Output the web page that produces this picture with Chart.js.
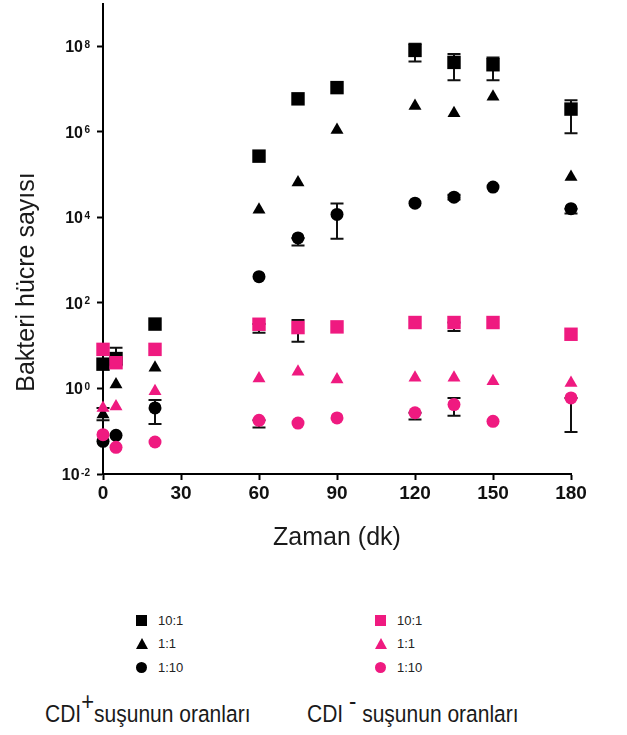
<!DOCTYPE html>
<html>
<head>
<meta charset="utf-8">
<script src="https://cdn.jsdelivr.net/npm/chart.js@4.4.0/dist/chart.umd.min.js"></script>
<style>
	body { margin: 0; background: #fff; font-family: 'Liberation Sans', Arial, sans-serif; }
	#wrap { position: relative; width: 627px; height: 735px; overflow: hidden; }
	#chartBox { position: absolute; left: 0; top: -6px; width: 627px; height: 571px; }
	.legend { position: absolute; font-size: 13px; color: #222; }
	.legend .row { height: 23.3px; display: flex; align-items: center; }
	.legend .mk { width: 11px; height: 11px; margin-right: 11px; }
	.mk.circle { border-radius: 50%; }
	.mk.triangle { width: 0; height: 0; background: none !important; border-left: 6px solid transparent; border-right: 6px solid transparent; border-bottom: 11px solid; margin-right: 10px; }
	.grpTitle { position: absolute; font-size: 21px; color: #1a1a1a; white-space: nowrap; transform: scaleY(1.15); transform-origin: left top; }
	.grpTitle sup { font-size: 22px; position: relative; top: -9px; vertical-align: top; line-height: 1; }
</style>
</head>
<body>
<div id="wrap">
	<div id="chartBox"><canvas id="chart"></canvas></div>
	<div class="legend" id="legPos" style="left:136px;top:609px"></div>
	<div class="legend" id="legNeg" style="left:375px;top:609px"></div>
	<div class="grpTitle" style="left:45px;top:700px">CDI<sup>+</sup>suşunun oranları</div>
	<div class="grpTitle" style="left:307px;top:700px">CDI <sup>-</sup> suşunun oranları</div>
</div>
<script>
// ===== DATA =====
const times = [0, 5, 20, 60, 75, 90, 120, 135, 150, 180];

// CDI+ strain
const pos10_1 = [3.7, 5, 32, 2.7e5, 5.9e6, 1.08e7, 8e7, 4.2e7, 3.7e7, 3.4e6];
const pos1_1  = [0.245, 1.24, 3.05, 1.5e4, 6.5e4, 1.1e6, 4e6, 2.7e6, 6.6e6, 8.8e4];
const pos1_10 = [0.058, 0.08, 0.35, 410, 3300, 1.17e4, 2.15e4, 2.96e4, 5.1e4, 1.6e4];

// CDI- strain
const neg10_1 = [8.2, 4.0, 8.2, 31.7, 26.5, 27.5, 34.8, 34.8, 34.8, 18.5];
const neg1_1  = [0.35, 0.38, 0.86, 1.72, 2.45, 1.63, 1.77, 1.77, 1.48, 1.35];
const neg1_10 = [0.083, 0.042, 0.056, 0.18, 0.155, 0.205, 0.27, 0.42, 0.17, 0.6];

// error bars [low, high]
const pos10_1Err = [null, [3.5, 8.9], null, null, null, null, [4.4e7, 1.15e8], [1.6e7, 6.6e7], [1.6e7, 5.5e7], [9.2e5, 5.5e6]];
const pos1_1Err  = [[0.18, 0.35], null, null, null, null, null, null, null, null, null];
const pos1_10Err = [null, null, [0.148, 0.54], null, [2200, 3300], [3150, 2.1e4], null, [2.6e4, 3.4e4], null, [1.23e4, 1.6e4]];
const neg10_1Err = [null, null, null, [20, 32], [12.4, 40], null, null, [22, 35], null, null];
const neg1_10Err = [null, null, null, [0.123, 0.18], null, null, [0.187, 0.27], [0.23, 0.6], null, [0.096, 0.6]];

const xTicks = [0, 30, 60, 90, 120, 150, 180];
const yTicks = [1e-2, 1e0, 1e2, 1e4, 1e6, 1e8];
const yTickExp = ['-2', '0', '2', '4', '6', '8'];
const ratioLabels = ['10:1', '1:1', '1:10'];

const BLACK = '#000000';
const PINK = '#EF1A80';

function toPoints(values) {
	return values.map((v, i) => ({ x: times[i], y: v }));
}

function makeSet(label, values, errors, color, style, radius, order) {
	return {
		label: label,
		data: toPoints(values),
		errors: errors,
		pointStyle: style,
		pointRadius: radius,
		pointHoverRadius: radius,
		backgroundColor: color,
		borderColor: color,
		borderWidth: 0,
		showLine: false,
		clip: false,
		order: order
	};
}

// ===== PLUGINS =====
const errorBars = {
	id: 'errorBars',
	beforeDatasetsDraw(chart) {
		const { ctx, scales: { x, y } } = chart;
		ctx.save();
		ctx.strokeStyle = '#111';
		ctx.lineWidth = 2;
		chart.data.datasets.forEach(ds => {
			if (!ds.errors) return;
			ds.errors.forEach((e, i) => {
				if (!e) return;
				const px = x.getPixelForValue(times[i]);
				const lo = y.getPixelForValue(e[0]);
				const hi = y.getPixelForValue(e[1]);
				ctx.beginPath();
				ctx.moveTo(px, lo);
				ctx.lineTo(px, hi);
				ctx.moveTo(px - 6.5, lo);
				ctx.lineTo(px + 6.5, lo);
				ctx.moveTo(px - 6.5, hi);
				ctx.lineTo(px + 6.5, hi);
				ctx.stroke();
			});
		});
		ctx.restore();
	}
};

// y tick labels as 10 with a raised exponent
const yTickText = {
	id: 'yTickText',
	afterDraw(chart) {
		const { ctx, scales: { y } } = chart;
		const right = 90;
		ctx.save();
		ctx.fillStyle = '#111';
		ctx.textBaseline = 'alphabetic';
		ctx.textAlign = 'left';
		yTicks.forEach((v, i) => {
			const py = y.getPixelForValue(v);
			ctx.font = 'bold 10px "Liberation Sans", Arial, sans-serif';
			const ew = ctx.measureText(yTickExp[i]).width;
			ctx.fillText(yTickExp[i], right - ew, py + 1.5);
			ctx.font = 'bold 16px "Liberation Sans", Arial, sans-serif';
			const bw = ctx.measureText('10').width;
			ctx.fillText('10', right - ew - 1.5 - bw, py + 6);
		});
		ctx.restore();
	}
};

const yTitle = {
	id: 'yTitle',
	afterDraw(chart) {
		const ctx = chart.ctx;
		ctx.save();
		ctx.translate(27, 288);
		ctx.rotate(-Math.PI / 2);
		ctx.font = '25px "Liberation Sans", Arial, sans-serif';
		ctx.fillStyle = '#1a1a1a';
		ctx.textAlign = 'center';
		ctx.textBaseline = 'middle';
		ctx.fillText('Bakteri hücre sayısı', 0, 0);
		ctx.restore();
	}
};

// ===== CHART =====
const ctx = document.getElementById('chart').getContext('2d');

new Chart(ctx, {
	type: 'scatter',
	data: {
		datasets: [
			makeSet('CDI+ 10:1', pos10_1, pos10_1Err, BLACK, 'rect', 9.5, 1),
			makeSet('CDI+ 1:1', pos1_1, pos1_1Err, BLACK, 'triangle', 7.5, 1),
			makeSet('CDI+ 1:10', pos1_10, pos1_10Err, BLACK, 'circle', 6.5, 1),
			makeSet('CDI- 10:1', neg10_1, neg10_1Err, PINK, 'rect', 9.5, 0),
			makeSet('CDI- 1:1', neg1_1, null, PINK, 'triangle', 7.5, 0),
			makeSet('CDI- 1:10', neg1_10, neg1_10Err, PINK, 'circle', 6.5, 0)
		]
	},
	options: {
		responsive: true,
		maintainAspectRatio: false,
		animation: false,
		layout: {
			padding: { top: 4, right: 56, bottom: 0, left: 0 }
		},
		plugins: {
			legend: { display: false },
			tooltip: { enabled: false }
		},
		scales: {
			x: {
				type: 'linear',
				min: 0,
				max: 180,
				afterBuildTicks: function(scale) {
					scale.ticks = xTicks.map(v => ({ value: v }));
				},
				afterFit: function(scale) {
					scale.height = 91;
					scale.paddingLeft = 0;
					scale.paddingRight = 0;
				},
				border: { display: true, color: '#000', width: 2 },
				grid: {
					drawOnChartArea: false,
					drawTicks: true,
					tickLength: 6,
					tickWidth: 2,
					tickColor: '#000'
				},
				ticks: {
					color: '#111',
					padding: 2,
					maxRotation: 0,
					font: { size: 19, weight: 'bold', family: 'Liberation Sans' }
				},
				title: {
					display: true,
					text: 'Zaman (dk)',
					color: '#1a1a1a',
					font: { size: 25, family: 'Liberation Sans' },
					padding: { top: 0, bottom: 12 }
				}
			},
			y: {
				type: 'logarithmic',
				min: 1e-2,
				max: 1e9,
				afterBuildTicks: function(scale) {
					scale.ticks = yTicks.map(v => ({ value: v }));
				},
				afterFit: function(scale) {
					scale.width = 103;
					scale.paddingTop = 0;
					scale.paddingBottom = 0;
				},
				border: { display: true, color: '#000', width: 2 },
				grid: {
					drawOnChartArea: false,
					drawTicks: true,
					tickLength: 6,
					tickWidth: 2,
					tickColor: '#000'
				},
				ticks: {
					display: false
				}
			}
		}
	},
	plugins: [errorBars, yTickText, yTitle]
});

// ===== LEGEND =====
function buildLegend(el, color) {
	const styles = ['rect', 'triangle', 'circle'];
	ratioLabels.forEach((lab, i) => {
		const row = document.createElement('div');
		row.className = 'row';
		const mk = document.createElement('span');
		mk.className = 'mk ' + styles[i];
		if (styles[i] === 'triangle') {
			mk.style.borderBottomColor = color;
		} else {
			mk.style.background = color;
		}
		const txt = document.createElement('span');
		txt.textContent = lab;
		row.appendChild(mk);
		row.appendChild(txt);
		el.appendChild(row);
	});
}
buildLegend(document.getElementById('legPos'), BLACK);
buildLegend(document.getElementById('legNeg'), PINK);
</script>
</body>
</html>
